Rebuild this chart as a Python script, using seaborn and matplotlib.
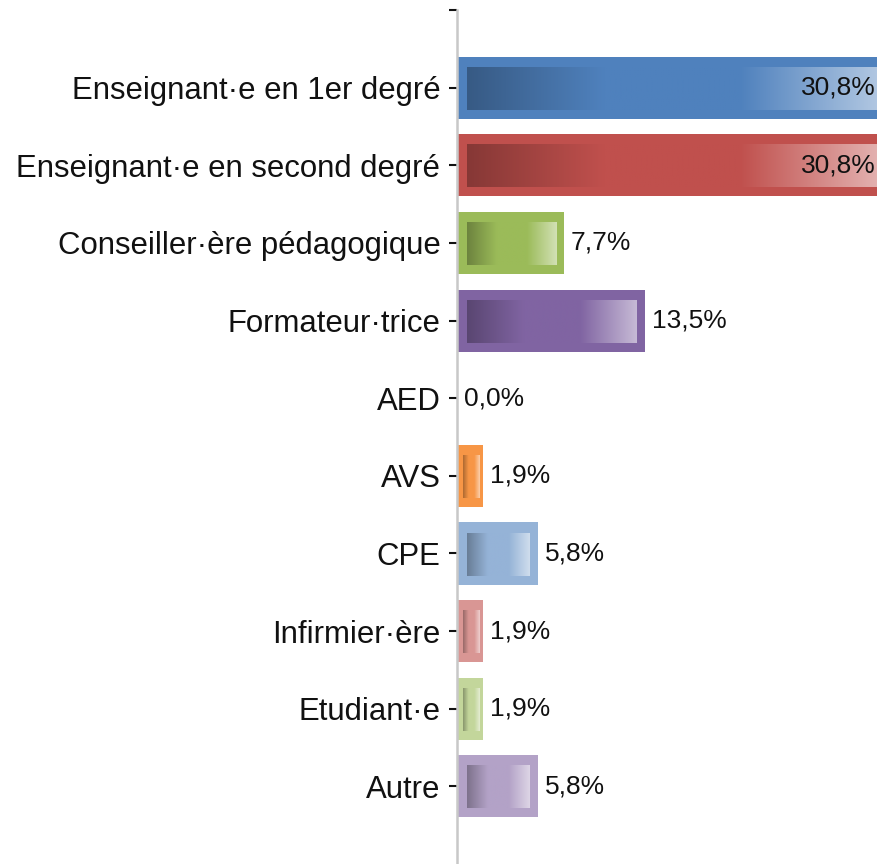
import numpy as np
import matplotlib
matplotlib.use("Agg")
import matplotlib.pyplot as plt
import matplotlib.colors as mcolors
import seaborn as sns

# Data
categories = [
    "Enseignant·e en 1er degré",
    "Enseignant·e en second degré",
    "Conseiller·ère pédagogique",
    "Formateur·trice",
    "AED",
    "AVS",
    "CPE",
    "Infirmier·ère",
    "Etudiant·e",
    "Autre",
]
values = [30.8, 30.8, 7.7, 13.5, 0.0, 1.9, 5.8, 1.9, 1.9, 5.8]
value_labels = ["30,8%", "30,8%", "7,7%", "13,5%", "0,0%", "1,9%", "5,8%", "1,9%", "1,9%", "5,8%"]
bar_colors = ["#4F81BD", "#C0504D", "#9BBB59", "#8064A2", "#4BACC6",
              "#F79646", "#95B3D7", "#D99694", "#C3D69B", "#B3A2C7"]

sns.set_style("white")
plt.rcParams["font.family"] = ["Liberation Sans", "DejaVu Sans"]

fig = plt.figure(figsize=(8.77, 8.64), dpi=100)
ax = fig.add_axes([0.5211, 0.0, 0.4789, 0.9884])

sns.barplot(x=values, y=categories, hue=categories, palette=bar_colors,
            legend=False, orient="h", width=0.8, saturation=1, ax=ax,
            edgecolor="none")

xmax = 30.2
px_x = xmax / (877 - 457)       # data units per pixel, x
px_y = 11.0 / 854               # data units per pixel, y

# gradient overlay inside each bar
for patch, col in zip(ax.patches, bar_colors):
    x0, y0 = patch.get_x(), patch.get_y()
    w, h = patch.get_width(), patch.get_height()
    if w <= 0:
        continue
    base = np.array(mcolors.to_rgb(col))
    dark = base * 0.70
    light = base + (1 - base) * 0.55
    inset_l = min(10 * px_x, 0.22 * w)
    inset_r = min(8 * px_x, 0.15 * w)
    inset_t = 11 * px_y
    inset_b = 9 * px_y
    n = 200
    t = np.linspace(0, 1, n)
    grad = np.zeros((1, n, 3))
    for k in range(3):
        grad[0, :, k] = np.interp(t, [0, 1 / 3, 2 / 3, 1], [dark[k], base[k], base[k], light[k]])
    ax.imshow(grad, extent=[x0 + inset_l, x0 + w - inset_r, y0 + h - inset_b, y0 + inset_t],
              aspect="auto", interpolation="bilinear", zorder=3)

# value labels
for i, (v, lab) in enumerate(zip(values, value_labels)):
    if v > xmax:
        ax.text(xmax - 1 * px_x, i, lab, ha="right", va="center", fontsize=19, color="#111111", zorder=4)
    else:
        ax.text(v + 7 * px_x, i, lab, ha="left", va="center", fontsize=19, color="#111111", zorder=4)

ax.set_xlim(0, xmax)
ax.set_ylim(10, -1)
ax.set_aspect("auto")
ax.set_yticks(range(-1, len(categories)))
ax.set_yticklabels([""] + categories, fontsize=22.4, color="#111111")
ax.set_xticks([])
ax.set_xlabel("")
ax.set_ylabel("")
for s in ["top", "right", "bottom"]:
    ax.spines[s].set_visible(False)
ax.spines["left"].set_color("#C8C8C8")
ax.spines["left"].set_linewidth(1.8)
ax.tick_params(axis="y", left=True, length=6, width=1.5, color="#111111", pad=6)

plt.savefig("out.png", dpi=100)
